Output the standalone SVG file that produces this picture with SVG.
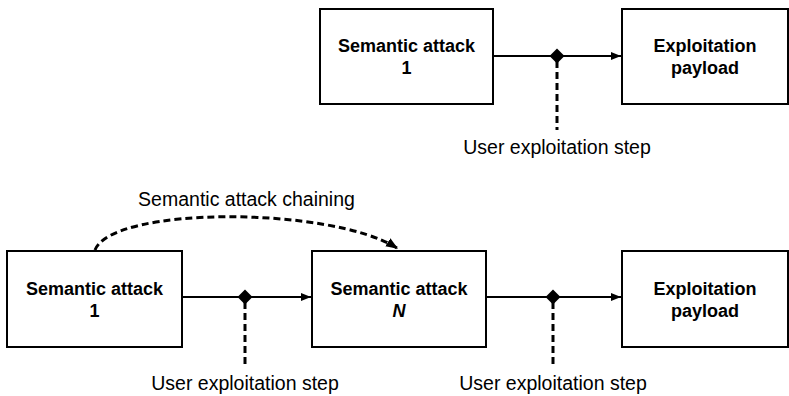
<svg xmlns="http://www.w3.org/2000/svg" width="789" height="396" viewBox="0 0 789 396">
  <style>
    .box { fill: #fff; stroke: #000; stroke-width: 2; }
    .title { font-family: "Liberation Sans", Arial, sans-serif; font-size: 18px; font-weight: bold; text-anchor: middle; fill: #000; }
    .label { font-family: "Liberation Sans", Arial, sans-serif; font-size: 19.5px; text-anchor: middle; fill: #000; }
    .flow { stroke: #000; stroke-width: 2; fill: none; }
    .dash { stroke: #000; stroke-width: 3; fill: none; stroke-dasharray: 7 4; }
  </style>
  <defs>
    <marker id="head" viewBox="0 0 10 10" refX="10" refY="5" markerWidth="5" markerHeight="5" orient="auto" markerUnits="strokeWidth">
      <path d="M0,1 L10,5 L0,9 Z" fill="#000"/>
    </marker>
    <marker id="headDash" viewBox="0 0 10 10" refX="9" refY="5" markerWidth="4" markerHeight="4" orient="auto" markerUnits="strokeWidth">
      <path d="M0,1 L10,5 L0,9 Z" fill="#000"/>
    </marker>
    <path id="knot" d="M0,-7.5 L7.5,0 L0,7.5 L-7.5,0 Z" fill="#000"/>
  </defs>

  <!-- connectors -->
  <g id="connectors">
    <!-- upper chain -->
    <line class="flow" x1="493" y1="56" x2="621" y2="56" marker-end="url(#head)"/>
    <line class="dash" x1="557" y1="61" x2="557" y2="130"/>
    <use href="#knot" x="557" y="56"/>
    <!-- lower chain -->
    <line class="flow" x1="182" y1="297" x2="311" y2="297" marker-end="url(#head)"/>
    <line class="dash" x1="245" y1="302" x2="245" y2="367"/>
    <use href="#knot" x="245" y="297"/>
    <line class="flow" x1="486" y1="297" x2="621" y2="297" marker-end="url(#head)"/>
    <line class="dash" x1="553" y1="302" x2="553" y2="367"/>
    <use href="#knot" x="553" y="297"/>
    <!-- chaining arc -->
    <path class="dash" d="M95,250 C112,206 330,206 397,248" marker-end="url(#headDash)"/>
  </g>

  <!-- upper row -->
  <g id="top-attack-1">
    <rect class="box" x="320" y="9" width="173" height="95"/>
    <text class="title" x="406.5" y="52">Semantic attack</text>
    <text class="title" x="406.5" y="74">1</text>
  </g>
  <g id="top-payload">
    <rect class="box" x="622" y="9" width="166" height="95"/>
    <text class="title" x="705" y="52">Exploitation</text>
    <text class="title" x="705" y="74">payload</text>
  </g>
  <text class="label" x="557" y="154">User exploitation step</text>

  <!-- lower row -->
  <g id="attack-1">
    <rect class="box" x="7" y="251" width="175" height="96"/>
    <text class="title" x="94.5" y="295">Semantic attack</text>
    <text class="title" x="94.5" y="317">1</text>
  </g>
  <g id="attack-n">
    <rect class="box" x="312" y="251" width="174" height="96"/>
    <text class="title" x="399" y="295">Semantic attack</text>
    <text class="title" x="399" y="317" font-style="italic">N</text>
  </g>
  <g id="payload">
    <rect class="box" x="622" y="251" width="166" height="96"/>
    <text class="title" x="705" y="295">Exploitation</text>
    <text class="title" x="705" y="317">payload</text>
  </g>
  <text class="label" x="246.5" y="206">Semantic attack chaining</text>
  <text class="label" x="245" y="390">User exploitation step</text>
  <text class="label" x="553" y="390">User exploitation step</text>
</svg>
